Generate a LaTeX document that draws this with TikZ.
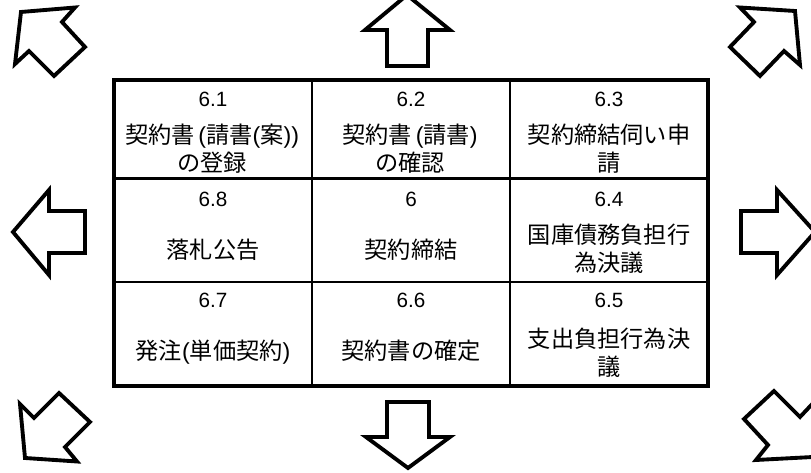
\documentclass[tikz,border=0pt]{standalone}
\usepackage{fontspec}
\setmainfont{Liberation Sans}
\newfontfamily\cjk{Noto Sans CJK JP}
\tikzset{
  arrowshape/.style={draw=black,line width=2.9pt,miter limit=10},
  framelines/.style={draw=black,line width=3.3pt},
  gridlines/.style={draw=black,line width=2pt},
  cellnum/.style={font=\fontsize{15.5}{18}\selectfont,inner sep=0pt},
  celltext/.style={font=\fontsize{17.4}{21}\selectfont\cjk,align=center,inner sep=0pt},
}
\newcommand{\lat}[1]{{\rmfamily #1}}
\begin{document}
\begin{tikzpicture}[x=0.75pt,y=-0.75pt]
  \useasboundingbox (0,0) rectangle (811,473);
  % table
  \draw[gridlines] (312,80) -- (312,386);
  \draw[gridlines] (510,80) -- (510,386);
  \draw[gridlines] (114,178.5) -- (708,178.5);
  \draw[gridlines] (114,282) -- (708,282);
  \draw[framelines] (114,80) rectangle (708,386);
  % numbers
  \node[cellnum] (n61) at (213,99) {6.1};
  \node[cellnum] (n62) at (411,99) {6.2};
  \node[cellnum] (n63) at (609,99) {6.3};
  \node[cellnum] (n68) at (213,199) {6.8};
  \node[cellnum] (n6) at (411,199) {6};
  \node[cellnum] (n64) at (609,199) {6.4};
  \node[cellnum] (n67) at (213,300) {6.7};
  \node[cellnum] (n66) at (411,300) {6.6};
  \node[cellnum] (n65) at (609,300) {6.5};
  % labels
  \node[celltext] (t61) at (212,149) {契約書\lat{\,(}請書\lat{(}案\lat{))}\\の登録};
  \node[celltext] (t62) at (410,149) {契約書\lat{\,(}請書\lat{)}\\の確認};
  \node[celltext] (t63) at (609,149) {契約締結伺い申\\請};
  \node[celltext] (t68) at (213,250) {落札公告};
  \node[celltext] (t6) at (411,250) {契約締結};
  \node[celltext] (t64) at (609,249) {国庫債務負担行\\為決議};
  \node[celltext] (t67) at (213,352) {発注\lat{(}単価契約\lat{)}};
  \node[celltext] (t66) at (411,351) {契約書の確定};
  \node[celltext] (t65) at (609,353) {支出負担行為決\\議};
  % arrows
  \draw[arrowshape] (21,12) -- (75,7.5) -- (62,22) -- (85,47) -- (54,76) -- (29,51) -- (15,64) -- cycle;
  \draw[arrowshape] (407,-5) -- (450,30) -- (428,30) -- (428,66) -- (387,66) -- (387,30) -- (365,30) -- cycle;
  \draw[arrowshape] (795,11) -- (740,7.5) -- (754,22) -- (730,47) -- (760,76) -- (784,51) -- (800,65) -- cycle;
  \draw[arrowshape] (13,232) -- (49,190) -- (49,211) -- (85,211) -- (85,253) -- (49,253) -- (49,275) -- cycle;
  \draw[arrowshape] (815,232) -- (777,190) -- (777,211) -- (741,211) -- (741,253) -- (777,253) -- (777,275) -- cycle;
  \draw[arrowshape] (25,458) -- (77,461.5) -- (65,447) -- (90,422) -- (59,393) -- (34,418) -- (20,404) -- cycle;
  \draw[arrowshape] (408,468) -- (450,437) -- (429,437) -- (429,402) -- (387,402) -- (387,437) -- (366,437) -- cycle;
  \draw[arrowshape] (813,457) -- (756,460) -- (768,445) -- (744,419) -- (774,391) -- (800,417) -- (816,400) -- cycle;
\end{tikzpicture}
\end{document}
